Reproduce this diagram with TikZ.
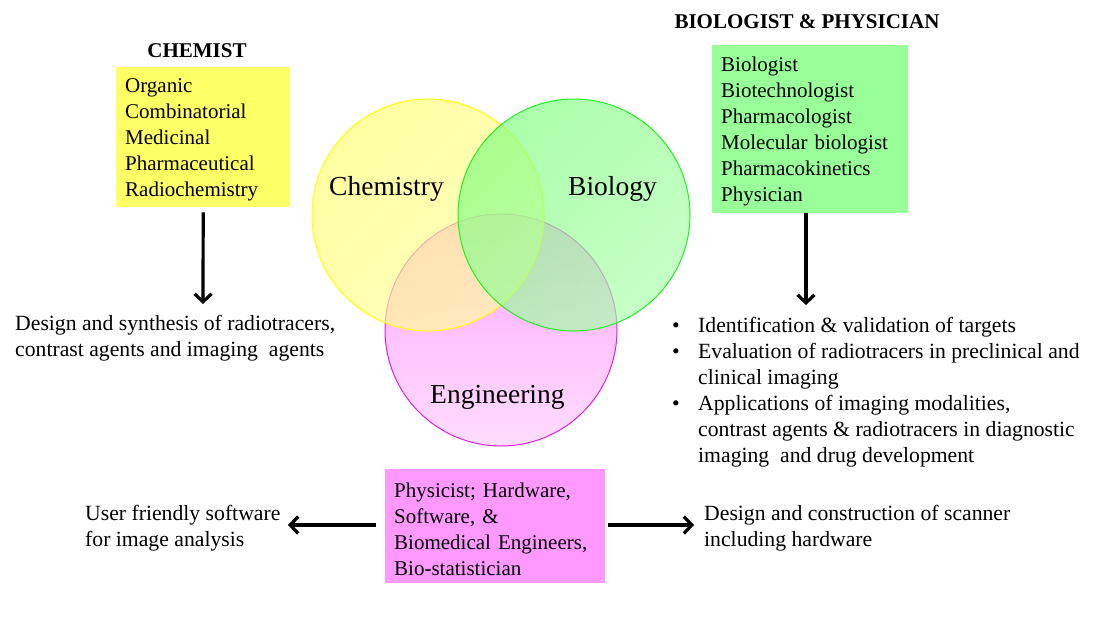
\documentclass[tikz,border=0pt]{standalone}
\usepackage{fontspec}
\setmainfont{Liberation Serif}
\usetikzlibrary{arrows.meta}
\definecolor{ybox}{HTML}{FFFF66}
\definecolor{gbox}{HTML}{99FF99}
\definecolor{mbox}{HTML}{FF99FF}
\definecolor{ycircD}{HTML}{FFFF70}
\definecolor{ycircL}{HTML}{FFFF9C}
\definecolor{gcircD}{HTML}{7CFF7C}
\definecolor{gcircL}{HTML}{A8FFA8}
\definecolor{mcircD}{HTML}{FFA8FF}
\definecolor{mcircL}{HTML}{FFDCFF}
\definecolor{yline}{HTML}{FFFF00}
\definecolor{gline}{HTML}{22EE22}
\definecolor{mline}{HTML}{E020E0}
\begin{document}
\begin{tikzpicture}[x=1pt,y=-1pt,
  body/.style={inner sep=0pt, anchor=base west, font=\fontsize{21.7}{26}\selectfont},
  title/.style={inner sep=0pt, anchor=base, font=\fontsize{21}{26}\selectfont\bfseries},
  clabel/.style={inner sep=0pt, anchor=base west, font=\fontsize{27.5}{32}\selectfont},
  listbox/.style={anchor=north west, inner xsep=9pt, inner ysep=0pt, align=left,
    font=\fontsize{21}{26}\selectfont},
  venn/.style={circle, minimum size=232pt, inner sep=0pt, line width=1pt},
  bigarrow/.style={line width=3.2pt, -{Straight Barb[length=8pt,width=17pt]}}
]
\useasboundingbox (0,0) rectangle (1100,629);

% Venn circles
\node[venn, draw=mline, top color=mcircD, bottom color=mcircL] (eng) at (501,330) {};
\node[venn, draw=yline, fill opacity=0.65, draw opacity=1, left color=ycircD, right color=ycircL, shading angle=45] (chem) at (428,215) {};
\node[venn, draw=gline, fill opacity=0.65, draw opacity=1, left color=gcircD, right color=gcircL, shading angle=45] (bio) at (574,215) {};

\node[clabel] (chemlbl) at (329,195) {Chemistry};
\node[clabel] (biolbl) at (568,195) {Biology};
\node[clabel] (englbl) at (430,403) {Engineering};

% Titles
\node[title] (chemist) at (197,57) {CHEMIST};
\node[title] (biophys) at (807,28) {BIOLOGIST \& PHYSICIAN};

% Boxes
\node[listbox, fill=ybox, minimum width=174pt, text width=156pt, text height=25pt, text depth=115pt] (chembox) at (116,67)
  {\begin{tabular}[t]{@{}l@{}}Organic\\Combinatorial\\Medicinal\\Pharmaceutical\\Radiochemistry\end{tabular}};
\node[listbox, fill=gbox, minimum width=196pt, text width=178pt, text height=26pt, text depth=142pt] (biobox) at (712,45)
  {\begin{tabular}[t]{@{}l@{}}Biologist\\Biotechnologist\\Pharmacologist\\Molecular biologist\\Pharmacokinetics\\Physician\end{tabular}};
\node[listbox, fill=mbox, minimum width=220pt, text width=202pt, text height=28pt, text depth=86pt] (engbox) at (385,469)
  {\begin{tabular}[t]{@{}l@{}}Physicist; Hardware,\\Software, \&\\Biomedical Engineers,\\Bio-statistician\end{tabular}};

% Outcome texts
\node[body] (chemout) at (15,330)
  {\begin{tabular}[t]{@{}l@{}}Design and synthesis of radiotracers,\\contrast agents and imaging\ \ agents\end{tabular}};
\node[body] (bioout) at (672,332)
  {\begin{tabular}[t]{@{}p{26pt}@{}l@{}}\textbullet & Identification \& validation of targets\\
   \textbullet & Evaluation of radiotracers in preclinical and\\
   & clinical imaging\\
   \textbullet & Applications of imaging modalities,\\
   & contrast agents \& radiotracers in diagnostic\\
   & imaging\ \ and drug development\end{tabular}};
\node[body] (softout) at (85,520)
  {\begin{tabular}[t]{@{}l@{}}User friendly software\\for image analysis\end{tabular}};
\node[body] (scanout) at (704,520)
  {\begin{tabular}[t]{@{}l@{}}Design and construction of scanner\\including hardware\end{tabular}};

% Arrows
\coordinate (chemtip) at (203,304);
\coordinate (biotip) at (806,305);
\coordinate (lefttip) at (288,525);
\coordinate (righttip) at (694,525);
\draw[bigarrow] ([yshift=-5pt]chembox.south) -- (chemtip);
\draw[bigarrow] (biobox.south -| biotip) -- (biotip);
\draw[bigarrow] ([xshift=-9pt]engbox.west |- lefttip) -- (lefttip);
\draw[bigarrow] ([xshift=3pt]engbox.east |- righttip) -- (righttip);
\end{tikzpicture}
\end{document}
